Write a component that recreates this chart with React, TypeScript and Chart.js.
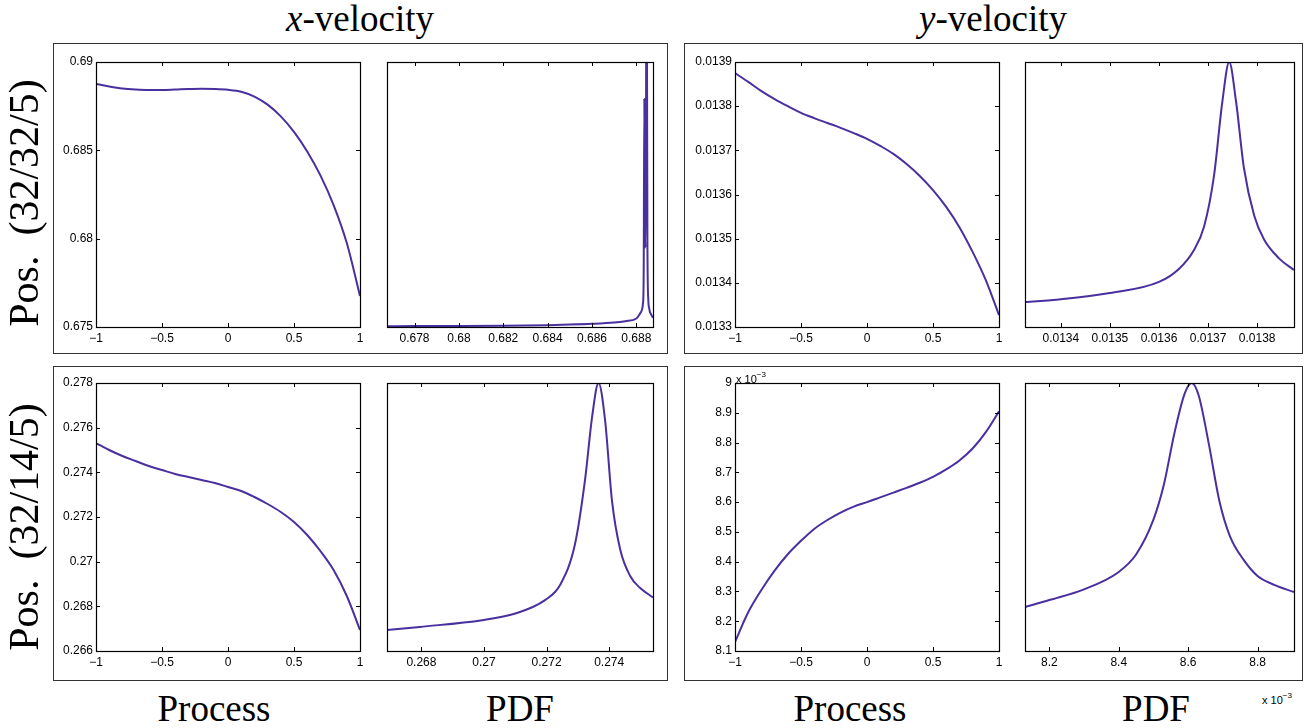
import React, { useEffect, useRef } from "react";
import { Chart, registerables } from "chart.js";

Chart.register(...registerables);

// ---------------- data ----------------
const processX = [-1, -0.9, -0.8, -0.7, -0.6, -0.5, -0.4, -0.3, -0.2, -0.1, 0, 0.1, 0.2, 0.3, 0.4, 0.5, 0.6, 0.7, 0.8, 0.9, 1];
const processTicks = [-1, -0.5, 0, 0.5, 1];
const processTickLabels = ["\u22121", "\u22120.5", "0", "0.5", "1"];

// x-velocity, Pos. (32/32/5)
const xvelTopProcess = [0.688755, 0.688613, 0.6885, 0.688444, 0.688418, 0.688418, 0.688444, 0.688475, 0.68849, 0.688475, 0.68843, 0.68832, 0.688045, 0.687585, 0.686925, 0.686045, 0.684935, 0.68358, 0.6819, 0.67975, 0.676755];
const xvelTopYTicks = [0.675, 0.68, 0.685, 0.69];
const xvelTopYLabels = ["0.675", "0.68", "0.685", "0.69"];
const xvelTopPdfX = [0.67676, 0.678, 0.68, 0.682, 0.684, 0.685, 0.686, 0.687, 0.6875, 0.688, 0.6882, 0.6883, 0.68833, 0.68836, 0.68839, 0.68842, 0.68846, 0.6885, 0.68854, 0.68858, 0.6886, 0.68865, 0.6887, 0.68875];
const xvelTopPdfY = [0.003, 0.0035, 0.004, 0.005, 0.007, 0.009, 0.012, 0.017, 0.022, 0.032, 0.055, 0.09, 0.2, 0.86, 0.35, 0.3, 1.6, 0.3, 0.1, 0.07, 0.06, 0.05, 0.042, 0.035];
const xvelTopPdfTicks = [0.678, 0.68, 0.682, 0.684, 0.686, 0.688];
const xvelTopPdfLabels = ["0.678", "0.68", "0.682", "0.684", "0.686", "0.688"];

// y-velocity, Pos. (32/32/5)
const yvelTopProcess = [0.013875, 0.013855, 0.013834, 0.013816, 0.0138, 0.013785, 0.013773, 0.013762, 0.013751, 0.013739, 0.013726, 0.01371, 0.013692, 0.013669, 0.013642, 0.01361, 0.013572, 0.013526, 0.01347, 0.013406, 0.013327];
const yvelTopYTicks = [0.0133, 0.0134, 0.0135, 0.0136, 0.0137, 0.0138, 0.0139];
const yvelTopYLabels = ["0.0133", "0.0134", "0.0135", "0.0136", "0.0137", "0.0138", "0.0139"];
const yvelTopPdfX = [0.013327, 0.0134, 0.0135, 0.0136, 0.013641, 0.013671, 0.013692, 0.013712, 0.013729, 0.013743, 0.013757, 0.013773, 0.013794, 0.013814, 0.013844, 0.013875];
const yvelTopPdfY = [0.094, 0.105, 0.128, 0.17, 0.22, 0.29, 0.38, 0.57, 0.85, 1.0, 0.85, 0.6, 0.42, 0.33, 0.26, 0.215];
const yvelTopPdfTicks = [0.0134, 0.0135, 0.0136, 0.0137, 0.0138];
const yvelTopPdfLabels = ["0.0134", "0.0135", "0.0136", "0.0137", "0.0138"];

// x-velocity, Pos. (32/14/5)
const xvelBotProcess = [0.275313, 0.275, 0.274731, 0.274507, 0.274283, 0.274104, 0.273925, 0.273791, 0.273656, 0.273522, 0.273343, 0.273164, 0.272895, 0.272582, 0.272224, 0.271776, 0.271194, 0.270477, 0.269627, 0.268462, 0.26694];
const xvelBotYTicks = [0.266, 0.268, 0.27, 0.272, 0.274, 0.276, 0.278];
const xvelBotYLabels = ["0.266", "0.268", "0.27", "0.272", "0.274", "0.276", "0.278"];
const xvelBotPdfX = [0.2669, 0.26795, 0.26994, 0.271, 0.27195, 0.27243, 0.27291, 0.27323, 0.27345, 0.27366, 0.27387, 0.27409, 0.27435, 0.27467, 0.27499, 0.2754];
const xvelBotPdfY = [0.078, 0.09, 0.115, 0.14, 0.19, 0.246, 0.4, 0.64, 0.87, 1.0, 0.86, 0.56, 0.38, 0.28, 0.235, 0.2];
const xvelBotPdfTicks = [0.268, 0.27, 0.272, 0.274];
const xvelBotPdfLabels = ["0.268", "0.27", "0.272", "0.274"];

// y-velocity, Pos. (32/14/5)  (values in units of 10^-3)
const yvelBotProcess = [8.13, 8.23, 8.305, 8.37, 8.425, 8.47, 8.51, 8.54, 8.565, 8.585, 8.6, 8.616, 8.632, 8.648, 8.665, 8.685, 8.71, 8.74, 8.78, 8.835, 8.905];
const yvelBotYTicks = [8.1, 8.2, 8.3, 8.4, 8.5, 8.6, 8.7, 8.8, 8.9, 9];
const yvelBotYLabels = ["8.1", "8.2", "8.3", "8.4", "8.5", "8.6", "8.7", "8.8", "8.9", "9"];
const yvelBotPdfX = [8.13, 8.2, 8.3, 8.4, 8.45, 8.5, 8.53, 8.56, 8.59, 8.61, 8.63, 8.66, 8.69, 8.72, 8.76, 8.8, 8.85, 8.905];
const yvelBotPdfY = [0.164, 0.19, 0.23, 0.295, 0.36, 0.49, 0.62, 0.81, 0.96, 1.0, 0.955, 0.77, 0.56, 0.43, 0.34, 0.28, 0.246, 0.22];
const yvelBotPdfTicks = [8.2, 8.4, 8.6, 8.8];
const yvelBotPdfLabels = ["8.2", "8.4", "8.6", "8.8"];

const columnTitles = ["x", "y"];
const rowLabels = ["(32/32/5)", "(32/14/5)"];
const bottomLabels = ["Process", "PDF"];

// ---------------- styles ----------------
const LINE = "#4a2f9f";
const SANS = '"Liberation Sans", Arial, Helvetica, sans-serif';
const SERIF = '"Liberation Serif", "Times New Roman", serif';
const PAD_T = 12;
const PAD_R = 14;
const PAD_B = 30;
const PAD_L_AXIS = 50;
const PAD_L_NONE = 12;

const framePlugin = {
  id: "frame",
  afterDatasetsDraw(chart: any, _args: any, opts: any) {
    const { ctx, chartArea: a, scales } = chart;
    ctx.save();
    ctx.strokeStyle = "#000";
    ctx.lineWidth = 1;
    const L = 4;
    ctx.beginPath();
    for (const t of scales.x.ticks) {
      const px = Math.round(scales.x.getPixelForValue(t.value)) + 0.5;
      ctx.moveTo(px, a.bottom);
      ctx.lineTo(px, a.bottom - L);
      ctx.moveTo(px, a.top);
      ctx.lineTo(px, a.top + L);
    }
    if (opts && opts.yTicks) {
      for (const t of scales.y.ticks) {
        const py = Math.round(scales.y.getPixelForValue(t.value)) + 0.5;
        ctx.moveTo(a.left, py);
        ctx.lineTo(a.left + L, py);
        ctx.moveTo(a.right, py);
        ctx.lineTo(a.right - L, py);
      }
    }
    ctx.stroke();
    ctx.lineWidth = 1.2;
    ctx.strokeRect(Math.round(a.left) + 0.5, Math.round(a.top) + 0.5, Math.round(a.right - a.left), Math.round(a.bottom - a.top));
    ctx.restore();
  },
};

type Spec = {
  left: number; top: number; w: number; h: number;
  xs: number[]; ys: number[];
  xMin: number; xMax: number; yMin: number; yMax: number;
  xTicks: number[]; xLabels: string[];
  yTicks?: number[]; yLabels?: string[];
};

function Plot({ spec }: { spec: Spec }) {
  const ref = useRef<HTMLCanvasElement>(null);
  const hasY = !!spec.yTicks;
  const padL = hasY ? PAD_L_AXIS : PAD_L_NONE;
  const cw = padL + spec.w + PAD_R;
  const ch = PAD_T + spec.h + PAD_B;
  useEffect(() => {
    const chart = new Chart(ref.current as HTMLCanvasElement, {
      type: "line",
      data: {
        datasets: [
          {
            data: spec.xs.map((x, i) => ({ x, y: spec.ys[i] })),
            borderColor: LINE,
            borderWidth: 2,
            pointRadius: 0,
            fill: false,
            cubicInterpolationMode: "monotone",
          },
        ],
      },
      options: {
        animation: false,
        responsive: false,
        maintainAspectRatio: false,
        devicePixelRatio: 1,
        layout: { padding: { left: hasY ? 0 : padL, right: PAD_R, top: PAD_T, bottom: 0 } },
        plugins: {
          legend: { display: false },
          tooltip: { enabled: false },
          frame: { yTicks: hasY },
        } as any,
        scales: {
          x: {
            type: "linear",
            min: spec.xMin,
            max: spec.xMax,
            grid: { display: false, drawTicks: false },
            border: { display: false },
            ticks: {
              autoSkip: false,
              maxRotation: 0,
              padding: 4,
              color: "#000",
              font: { family: SANS, size: 12 },
              callback: (_v: any, i: number) => spec.xLabels[i],
            },
            afterBuildTicks: (s: any) => {
              s.ticks = spec.xTicks.map((v) => ({ value: v }));
            },
            afterFit: (s: any) => {
              s.height = PAD_B;
            },
          },
          y: {
            type: "linear",
            display: hasY,
            min: spec.yMin,
            max: spec.yMax,
            grid: { display: false, drawTicks: false },
            border: { display: false },
            ticks: {
              autoSkip: false,
              padding: 3,
              color: "#000",
              font: { family: SANS, size: 12 },
              callback: (_v: any, i: number) => (spec.yLabels ? spec.yLabels[i] : ""),
            },
            afterBuildTicks: (s: any) => {
              s.ticks = (spec.yTicks || []).map((v) => ({ value: v }));
            },
            afterFit: (s: any) => {
              s.width = hasY ? PAD_L_AXIS : 0;
            },
          },
        },
      } as any,
      plugins: [framePlugin as any],
    });
    return () => chart.destroy();
  }, []);
  return (
    <canvas
      ref={ref}
      width={cw}
      height={ch}
      style={{ position: "absolute", left: spec.left - padL, top: spec.top - PAD_T, width: cw, height: ch }}
    />
  );
}

const specs: Spec[] = [
  {
    left: 96, top: 62, w: 264, h: 265, xs: processX, ys: xvelTopProcess,
    xMin: -1, xMax: 1, yMin: 0.675, yMax: 0.69,
    xTicks: processTicks, xLabels: processTickLabels, yTicks: xvelTopYTicks, yLabels: xvelTopYLabels,
  },
  {
    left: 387, top: 62, w: 266, h: 265, xs: xvelTopPdfX, ys: xvelTopPdfY,
    xMin: 0.67676, xMax: 0.68875, yMin: 0, yMax: 1,
    xTicks: xvelTopPdfTicks, xLabels: xvelTopPdfLabels,
  },
  {
    left: 735, top: 62, w: 264, h: 265, xs: processX, ys: yvelTopProcess,
    xMin: -1, xMax: 1, yMin: 0.0133, yMax: 0.0139,
    xTicks: processTicks, xLabels: processTickLabels, yTicks: yvelTopYTicks, yLabels: yvelTopYLabels,
  },
  {
    left: 1025, top: 62, w: 269, h: 265, xs: yvelTopPdfX, ys: yvelTopPdfY,
    xMin: 0.013327, xMax: 0.013875, yMin: 0, yMax: 1,
    xTicks: yvelTopPdfTicks, xLabels: yvelTopPdfLabels,
  },
  {
    left: 96, top: 383, w: 264, h: 268, xs: processX, ys: xvelBotProcess,
    xMin: -1, xMax: 1, yMin: 0.266, yMax: 0.278,
    xTicks: processTicks, xLabels: processTickLabels, yTicks: xvelBotYTicks, yLabels: xvelBotYLabels,
  },
  {
    left: 387, top: 383, w: 266, h: 268, xs: xvelBotPdfX, ys: xvelBotPdfY,
    xMin: 0.2669, xMax: 0.2754, yMin: 0, yMax: 1,
    xTicks: xvelBotPdfTicks, xLabels: xvelBotPdfLabels,
  },
  {
    left: 735, top: 383, w: 264, h: 268, xs: processX, ys: yvelBotProcess,
    xMin: -1, xMax: 1, yMin: 8.1, yMax: 9,
    xTicks: processTicks, xLabels: processTickLabels, yTicks: yvelBotYTicks, yLabels: yvelBotYLabels,
  },
  {
    left: 1025, top: 383, w: 269, h: 268, xs: yvelBotPdfX, ys: yvelBotPdfY,
    xMin: 8.13, xMax: 8.905, yMin: 0, yMax: 1,
    xTicks: yvelBotPdfTicks, xLabels: yvelBotPdfLabels,
  },
];

const boxes = [
  { left: 53, top: 43 },
  { left: 684, top: 43 },
  { left: 53, top: 366 },
  { left: 684, top: 366 },
];

const serifText: React.CSSProperties = {
  position: "absolute",
  fontFamily: SERIF,
  fontSize: 37,
  lineHeight: 1,
  whiteSpace: "nowrap",
  color: "#000",
};

function Exponent({ left, top }: { left: number; top: number }) {
  return (
    <div style={{ position: "absolute", left, top, fontFamily: SANS, fontSize: 11, lineHeight: 1, whiteSpace: "nowrap" }}>
      x 10<span style={{ fontSize: 8, position: "relative", top: -6 }}>{"\u22123"}</span>
    </div>
  );
}

export default function App() {
  return (
    <div style={{ position: "absolute", left: 0, top: 0, width: 1309, height: 728, background: "#fff", overflow: "hidden" }}>
      {boxes.map((b, i) => (
        <div
          key={i}
          style={{
            position: "absolute",
            left: b.left,
            top: b.top,
            width: b.left < 600 ? 615 : 619,
            height: i < 2 ? 311 : 315,
            border: "1px solid #333",
            boxSizing: "border-box",
          }}
        />
      ))}
      {specs.map((s, i) => (
        <Plot key={i} spec={s} />
      ))}
      {columnTitles.map((c, i) => (
        <div key={c} style={{ ...serifText, left: i === 0 ? 360 : 993, top: 0, transform: "translateX(-50%)" }}>
          <span style={{ fontStyle: "italic" }}>{c}</span>-velocity
        </div>
      ))}
      {[214, 520, 850, 1156].map((cx, i) => (
        <div key={i} style={{ ...serifText, left: cx, top: 690, transform: "translateX(-50%)" }}>
          {bottomLabels[i % 2]}
        </div>
      ))}
      {rowLabels.map((r, i) => (
        <div
          key={r}
          style={{
            ...serifText,
            fontSize: 42,
            left: 24,
            top: i === 0 ? 203 : 527,
            transform: "translate(-50%, -50%) rotate(-90deg)",
          }}
        >
          Pos.<span style={{ display: "inline-block", width: 20 }} />
          {r}
        </div>
      ))}
      <Exponent left={736} top={374} />
      <Exponent left={1262} top={695} />
    </div>
  );
}
